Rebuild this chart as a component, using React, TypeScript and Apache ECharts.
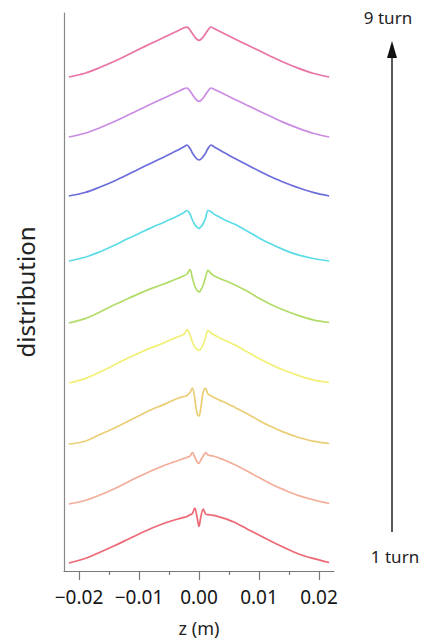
import React, { useEffect, useRef } from "react";
import * as echarts from "echarts";

// z positions (m) shared by every turn
const zValues = [
  -0.0217, -0.019, -0.0165, -0.014, -0.012, -0.01, -0.008, -0.006, -0.0045, -0.0035, -0.0025,
  -0.002, -0.0015, -0.0011, -0.0007, -0.0003, 0, 0.0003, 0.0007, 0.0011, 0.0015, 0.002, 0.0025,
  0.0035, 0.0045, 0.006, 0.008, 0.01, 0.012, 0.014, 0.0165, 0.019, 0.0217,
];

// distribution (a.u.) per turn
const turn1 = [0, 4.5, 10.8, 17.5, 23.2, 29, 34.5, 39.3, 42.2, 44, 45.6, 46.5, 48.3, 49.5, 55, 45, 36.6, 46, 54, 49, 48.3, 48, 47.6, 45.9, 44.1, 40.4, 34.1, 27.9, 21.8, 16, 9.3, 4.6, 0.5];
const turn2 = [0, 3.5, 9, 15.5, 21.6, 27.4, 33, 38, 41.4, 43.5, 45.6, 46.6, 47.8, 51.3, 47, 42, 40.5, 44, 48, 51.3, 49, 48.3, 47.7, 45.6, 43.2, 39.3, 33, 26.4, 20, 14.6, 8.6, 4.2, 0.5];
const turn3 = [0, 2.8, 9.5, 16.2, 22.3, 28.2, 34.2, 39.1, 43.2, 45.8, 47.5, 48.5, 51.5, 56, 45, 30, 28, 36, 52, 55.7, 50, 48.2, 46.5, 43.6, 41.1, 36.6, 30.3, 23.6, 17.4, 12.1, 6.7, 2.8, 0.5];
const turn4 = [0, 4.4, 11, 18.4, 24.5, 29.9, 35.1, 39.8, 43.8, 46.2, 48.8, 53.4, 48, 41, 36, 33.5, 32.7, 34, 38.5, 46, 52.7, 50, 48.2, 44.9, 42.2, 37.9, 31.3, 24.6, 18.6, 13.2, 7.6, 3.2, 0.5];
const turn5 = [0, 4.4, 11, 18.4, 24, 29.4, 34.4, 38.8, 42.3, 44.7, 47.2, 49, 53.4, 45, 37, 32.5, 31, 33, 38, 46, 52.7, 49.5, 47.3, 44.4, 42, 38.1, 31.9, 24.7, 18.6, 13.2, 7.6, 3.2, 0.5];
const turn6 = [0, 3.7, 9.3, 16, 21.9, 27.5, 33.1, 38.3, 42.4, 45.3, 48.6, 50.5, 47, 41, 36.5, 33.8, 32.7, 34, 37.5, 43, 50.5, 49.2, 46.9, 43.6, 40.5, 36.7, 30, 23.1, 16.9, 11.6, 6.1, 2.5, 0];
const turn7 = [0, 3.5, 9, 15.3, 21, 27, 32.8, 38.6, 43, 46, 49.2, 51, 47.5, 43, 39.5, 36.8, 36, 36.8, 39.5, 43, 47.5, 51, 49.2, 45.8, 42.4, 37.4, 31.2, 25.1, 19.3, 14, 8.4, 3.6, 0];
const turn8 = [0, 3.7, 9.3, 15.7, 21.4, 27.2, 32.9, 38.5, 42.7, 45.5, 48.4, 49, 46, 42.5, 39, 36.5, 35.6, 36.5, 39, 42.5, 46, 49, 47.8, 45, 42, 37.6, 31.8, 26.1, 20.4, 14.9, 8.9, 3.8, 0];
const turn9 = [0, 3.8, 9.5, 16, 21.8, 27.7, 33.5, 39.2, 43.5, 46.3, 49.3, 49.8, 47, 43.5, 40, 37.5, 36.6, 37.5, 40, 43.5, 47, 50, 48.5, 45.5, 42.5, 38, 32.2, 26.4, 20.6, 15, 8.9, 3.8, 0];

const turns = [turn1, turn2, turn3, turn4, turn5, turn6, turn7, turn8, turn9];
// vertical offset of each turn's baseline (a.u.)
const turnOffsets = [8, 67, 127, 188, 248, 310, 375, 434, 494];
const turnNames = ["1 turn", "2 turn", "3 turn", "4 turn", "5 turn", "6 turn", "7 turn", "8 turn", "9 turn"];
const turnColors = ["#ea5866", "#f2a48e", "#e9c866", "#f0ee66", "#a8d858", "#4ad8e4", "#5c5cd6", "#c47ee0", "#e6649a"];

const majorTicks = [-0.02, -0.01, 0, 0.01, 0.02];
const minorTicks = [-0.015, -0.005, 0.005, 0.015];

const FONT = "'Noto Sans', 'DejaVu Sans', sans-serif";

export default function App() {
  const ref = useRef<HTMLDivElement>(null);
  useEffect(() => {
    if (!ref.current) return;
    const chart = echarts.init(ref.current, null, { renderer: "svg" });
    const gridBox = { left: 64, right: 88, top: 13, bottom: 72 };
    chart.setOption({
      animation: false,
      backgroundColor: "#ffffff",
      grid: [
        { ...gridBox, containLabel: false },
        { ...gridBox, containLabel: false },
      ],
      xAxis: [
        {
          type: "value",
          gridIndex: 0,
          min: -0.0225,
          max: 0.0225,
          name: "z (m)",
          nameLocation: "middle",
          nameGap: 48,
          nameTextStyle: { fontFamily: FONT, fontSize: 18, color: "#222" },
          axisLine: { show: true, onZero: false, lineStyle: { color: "#777", width: 1.2 } },
          axisTick: { show: true, customValues: majorTicks, length: 9, lineStyle: { color: "#777", width: 1.2 } },
          axisLabel: {
            show: true,
            customValues: majorTicks,
            margin: 16,
            fontFamily: FONT,
            fontSize: 19,
            color: "#151515",
            formatter: (v: number) => (v < 0 ? "\u2212" : "") + Math.abs(v).toFixed(2),
          },
          splitLine: { show: false },
        },
        {
          type: "value",
          gridIndex: 1,
          min: -0.0225,
          max: 0.0225,
          axisLine: { show: false, onZero: false },
          axisTick: { show: true, customValues: minorTicks, length: 4, lineStyle: { color: "#777", width: 1.2 } },
          axisLabel: { show: false },
          splitLine: { show: false },
        },
      ],
      yAxis: [
        {
          type: "value",
          gridIndex: 0,
          min: 0,
          max: 558,
          name: "distribution",
          nameLocation: "middle",
          nameGap: 27,
          nameTextStyle: { fontFamily: FONT, fontSize: 24, color: "#222" },
          axisLine: { show: true, onZero: false, lineStyle: { color: "#888", width: 1.2 } },
          axisTick: { show: false },
          axisLabel: { show: false },
          splitLine: { show: false },
        },
        {
          type: "value",
          gridIndex: 1,
          min: 0,
          max: 558,
          show: false,
          axisLine: { onZero: false },
        },
      ],
      series: turns.map((vals, t) => ({
        name: turnNames[t],
        type: "line",
        xAxisIndex: 0,
        yAxisIndex: 0,
        symbol: "none",
        smooth: 0.35,
        silent: true,
        lineStyle: { color: turnColors[t], width: 1.7, opacity: 0.9 },
        data: zValues.map((z, i) => [z, turnOffsets[t] + vals[i]]),
      })),
      graphic: [
        {
          type: "line",
          shape: { x1: 392, y1: 532, x2: 392, y2: 56 },
          style: { stroke: "#222", lineWidth: 1.5 },
        },
        {
          type: "polygon",
          shape: { points: [[387, 58], [397, 58], [392, 41]] },
          style: { fill: "#111" },
        },
        {
          type: "text",
          x: 388,
          y: 17,
          style: { text: "9 turn", fontFamily: FONT, fontSize: 17, fill: "#222", align: "center", verticalAlign: "middle" },
        },
        {
          type: "text",
          x: 395,
          y: 556,
          style: { text: "1 turn", fontFamily: FONT, fontSize: 17, fill: "#222", align: "center", verticalAlign: "middle" },
        },
      ],
    });
    return () => chart.dispose();
  }, []);
  return (
    <div
      ref={ref}
      style={{ position: "fixed", left: 0, top: 0, width: 422, height: 643, background: "#fff" }}
    />
  );
}
